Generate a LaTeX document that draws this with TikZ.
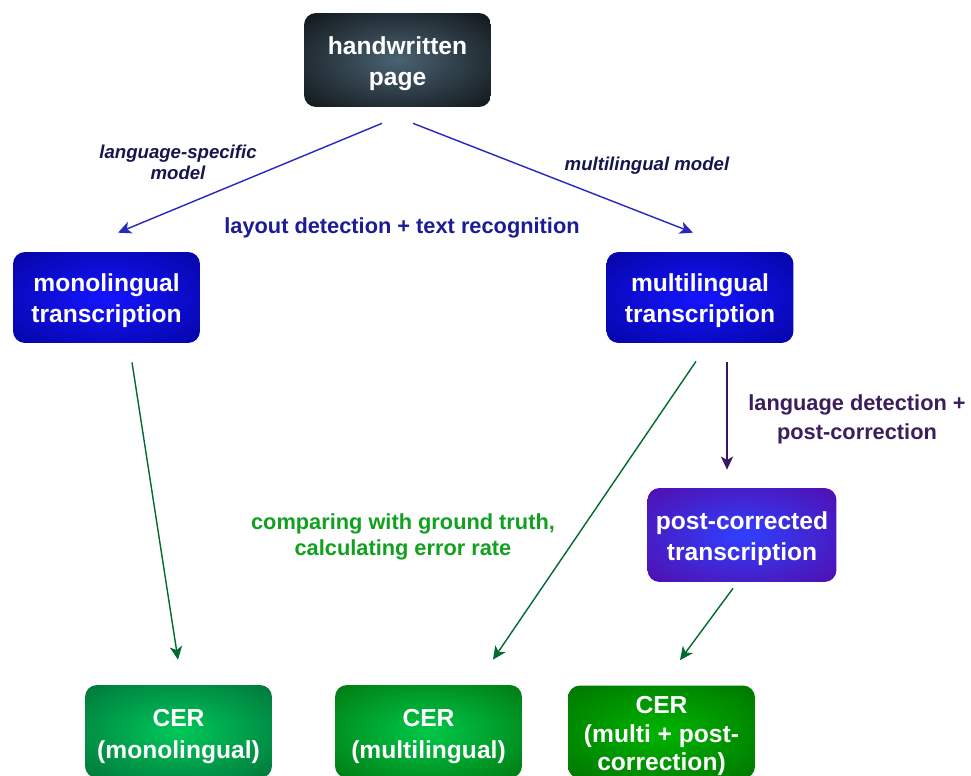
\documentclass[tikz,border=0pt]{standalone}
\usepackage{fontspec}
\setmainfont{Liberation Sans}
\usetikzlibrary{arrows.meta,calc}
\newcommand\mystrut[1]{\rule{0pt}{#1}}
\colorlet{glowin}{white}
\colorlet{glowout}{black}
\pgfdeclareradialshading[glowin,glowout]{glow}{\pgfpoint{0bp}{0bp}}{color(0bp)=(glowin); color(46bp)=(glowout); color(100bp)=(glowout)}
\definecolor{hwin}{HTML}{4A6272}
\definecolor{hwout}{HTML}{000000}
\definecolor{bluein}{HTML}{1515FF}
\definecolor{blueout}{HTML}{00008C}
\definecolor{purin}{HTML}{3040FF}
\definecolor{purout}{HTML}{5A0096}
\definecolor{gAin}{HTML}{00C85A}
\definecolor{gAout}{HTML}{005F32}
\definecolor{gBin}{HTML}{00C84A}
\definecolor{gBout}{HTML}{006400}
\definecolor{gCin}{HTML}{00B400}
\definecolor{gCout}{HTML}{006400}
\definecolor{navytxt}{HTML}{16164E}
\definecolor{bluetxt}{HTML}{1C1C96}
\definecolor{purtxt}{HTML}{3C1E5C}
\definecolor{greentxt}{HTML}{12A020}
\definecolor{bluearrow}{HTML}{2828C0}
\definecolor{greenarrow}{HTML}{006A30}
\definecolor{purarrow}{HTML}{3C1464}
\begin{document}
\begin{tikzpicture}[x=0.02cm,y=-0.02cm,
  box/.style={rounded corners=0.24cm, minimum width=3.74cm, minimum height=1.86cm,
    text=white, align=center, inner sep=0pt,
    font=\fontsize{14}{18}\selectfont\bfseries},
  glowbox/.style 2 args={/utils/exec={\colorlet{glowin}{#1}\colorlet{glowout}{#2}}, shading=glow},
  lbl/.style={font=\fontsize{12.4}{15}\selectfont\bfseries, align=center, inner sep=0pt},
  ital/.style={font=\fontsize{10.6}{12}\selectfont\bfseries\itshape, text=navytxt, align=center, inner sep=0pt},
  conn/.style={line width=0.8pt, -{Stealth[length=7.5pt,width=7pt,inset=2pt]}},
]
\useasboundingbox (0,0) rectangle (971,776);
\fill[white] (0,0) rectangle (971,776);

% boxes
\node[box, glowbox={hwin}{hwout}, minimum height=1.88cm] (hw) at (397.5,60) {\mystrut{14.2pt}handwritten\\page};
\node[box, glowbox={bluein}{blueout}, minimum height=1.82cm] (mono) at (106.5,297.5) {\mystrut{13.6pt}monolingual\\transcription};
\node[box, glowbox={bluein}{blueout}, minimum height=1.82cm] (multi) at (700,297.5) {\mystrut{13.6pt}multilingual\\transcription};
\node[box, glowbox={purin}{purout}, minimum width=3.78cm, minimum height=1.88cm] (post) at (742,535) {\mystrut{14.2pt}post-corrected\\transcription};
\node[box, glowbox={gAin}{gAout}] (cerA) at (178.5,731.5) {\mystrut{15.6pt}CER\\(monolingual)};
\node[box, glowbox={gBin}{gBout}] (cerB) at (428.5,731.5) {\mystrut{15.6pt}CER\\(multilingual)};
\node[box, glowbox={gCin}{gCout}, font=\fontsize{14}{16.2}\selectfont\bfseries] (cerC) at (661.5,732) {\mystrut{14.6pt}CER\\(multi + post-\\correction)};

% labels
\node[ital] (lsm) at (178,162.5) {language-specific\\model};
\node[ital] (mm) at (647,165.5) {multilingual model};
\node[lbl, text=bluetxt] (layout) at (402,228) {layout detection + text recognition};
\node[lbl, text=purtxt, font=\fontsize{12.4}{16.5}\selectfont\bfseries] (ld) at (857,419.5) {language detection +\\post-correction};
\node[lbl, text=greentxt, font=\fontsize{12.4}{14.8}\selectfont\bfseries] (cmp) at (403,537) {comparing with ground truth,\\calculating error rate};

% connectors
\draw[conn, bluearrow] ($(hw.south)+(-15.5,16)$) -- ($(mono.north)+(11.5,-19)$);
\draw[conn, bluearrow] ($(hw.south)+(15.5,16)$) -- ($(multi.north)+(-7,-19)$);
\draw[conn, greenarrow] ($(mono.south)+(25.5,19)$) -- ($(cerA.north)+(-0.5,-25)$);
\draw[conn, greenarrow] ($(multi.south)+(-4,18)$) -- ($(cerB.north)+(64.5,-25)$);
\draw[conn, purarrow] ($(multi.south)+(27,19)$) -- ($(post.north)+(-15,-18)$);
\draw[conn, greenarrow] ($(post.south)+(-9,6)$) -- ($(cerC.north)+(18.5,-25)$);
\end{tikzpicture}
\end{document}
